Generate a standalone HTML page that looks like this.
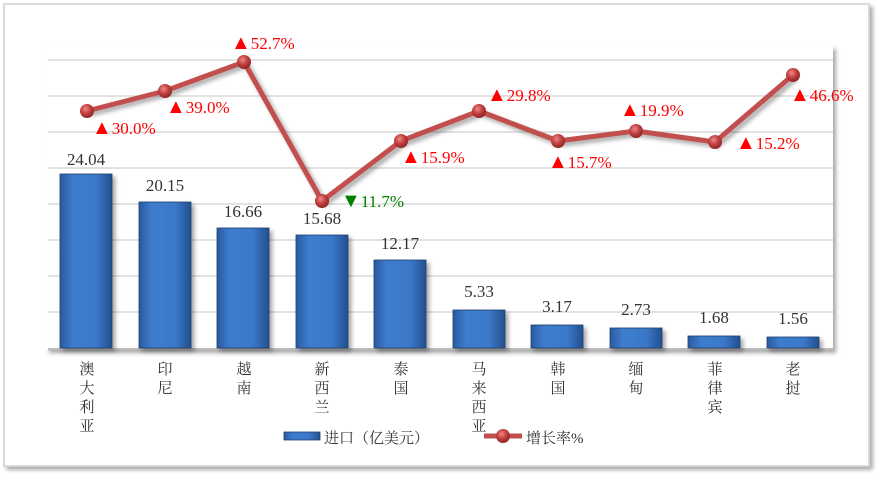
<!DOCTYPE html>
<html><head><meta charset="utf-8"><style>
body{margin:0;background:#fff;}
svg text{font-family:"Liberation Serif","Noto Serif CJK SC",serif;}
</style></head><body>
<svg width="883" height="480" xmlns="http://www.w3.org/2000/svg">
<defs>
<linearGradient id="bg" x1="0" x2="1" y1="0" y2="0">
<stop offset="0" stop-color="#2a5a9e"/><stop offset="0.25" stop-color="#3d7dce"/><stop offset="0.7" stop-color="#3a78c8"/><stop offset="1" stop-color="#22508e"/></linearGradient>
<radialGradient id="mk" cx="0.4" cy="0.35" r="0.7"><stop offset="0" stop-color="#e88"/><stop offset="0.5" stop-color="#c0403f"/><stop offset="1" stop-color="#8a2222"/></radialGradient>
<filter id="sh" x="-10%" y="-10%" width="130%" height="130%"><feDropShadow dx="3" dy="3" stdDeviation="2" flood-color="#000" flood-opacity="0.35"/></filter>
</defs>
<rect x="4" y="4" width="865" height="462" fill="#fff" stroke="#d0d0d0" stroke-width="1.5" filter="url(#sh)"/>
<rect x="46" y="46" width="787" height="304" fill="#fff" filter="url(#sh)"/>
<g stroke="#d9d9d9" stroke-width="1.5">
<line x1="48" x2="833" y1="60" y2="60"/><line x1="48" x2="833" y1="96" y2="96"/><line x1="48" x2="833" y1="132" y2="132"/><line x1="48" x2="833" y1="168" y2="168"/><line x1="48" x2="833" y1="204" y2="204"/><line x1="48" x2="833" y1="240" y2="240"/><line x1="48" x2="833" y1="276" y2="276"/><line x1="48" x2="833" y1="312" y2="312"/>
</g>
<line x1="48" x2="833" y1="349" y2="349" stroke="#bbb" stroke-width="2"/>
<g fill="url(#bg)" stroke="#1e3f70" stroke-width="0.8" filter="url(#sh)">
<rect x="60" y="174" width="52" height="174"/>
<rect x="139" y="202" width="52" height="146"/>
<rect x="217" y="228" width="52" height="120"/>
<rect x="296" y="235" width="52" height="113"/>
<rect x="374" y="260" width="52" height="88"/>
<rect x="453" y="310" width="52" height="38"/>
<rect x="531" y="325" width="52" height="23"/>
<rect x="610" y="328" width="52" height="20"/>
<rect x="688" y="336" width="52" height="12"/>
<rect x="767" y="337" width="52" height="11"/>
</g>
<g font-size="17" fill="#333" text-anchor="middle">
<text x="86" y="165">24.04</text><text x="165" y="191">20.15</text><text x="243" y="217">16.66</text><text x="322" y="224">15.68</text><text x="400" y="249">12.17</text><text x="479" y="297">5.33</text><text x="557" y="312">3.17</text><text x="636" y="315">2.73</text><text x="714" y="323">1.68</text><text x="793" y="324">1.56</text>
</g>
<polyline points="87,111 165,91 244,62 322,201 401,141 479,111 558,141 636,131 715,142 793,75" fill="none" stroke="#c0504d" stroke-width="5" stroke-linejoin="round" filter="url(#sh)"/>
<g fill="url(#mk)">
<circle cx="87" cy="111" r="7"/><circle cx="165" cy="91" r="7"/><circle cx="244" cy="62" r="7"/><circle cx="322" cy="201" r="7"/><circle cx="401" cy="141" r="7"/><circle cx="479" cy="111" r="7"/><circle cx="558" cy="141" r="7"/><circle cx="636" cy="131" r="7"/><circle cx="715" cy="142" r="7"/><circle cx="793" cy="75" r="7"/>
</g>
<g font-size="17" fill="#ff0000">
<text x="92" y="134"><tspan font-size="20">▲</tspan>30.0%</text>
<text x="166" y="113"><tspan font-size="20">▲</tspan>39.0%</text>
<text x="231" y="49"><tspan font-size="20">▲</tspan>52.7%</text>
<text x="341" y="207" fill="#008000"><tspan font-size="20">▼</tspan>11.7%</text>
<text x="401" y="163"><tspan font-size="20">▲</tspan>15.9%</text>
<text x="487" y="101"><tspan font-size="20">▲</tspan>29.8%</text>
<text x="548" y="168"><tspan font-size="20">▲</tspan>15.7%</text>
<text x="620" y="116"><tspan font-size="20">▲</tspan>19.9%</text>
<text x="736" y="149"><tspan font-size="20">▲</tspan>15.2%</text>
<text x="790" y="101"><tspan font-size="20">▲</tspan>46.6%</text>
</g>
<g font-size="15" fill="#333" text-anchor="middle">
<text x="87" y="374">澳</text><text x="87" y="393">大</text><text x="87" y="412">利</text><text x="87" y="431">亚</text>
<text x="165" y="374">印</text><text x="165" y="393">尼</text>
<text x="244" y="374">越</text><text x="244" y="393">南</text>
<text x="322" y="374">新</text><text x="322" y="393">西</text><text x="322" y="412">兰</text>
<text x="401" y="374">泰</text><text x="401" y="393">国</text>
<text x="479" y="374">马</text><text x="479" y="393">来</text><text x="479" y="412">西</text><text x="479" y="431">亚</text>
<text x="558" y="374">韩</text><text x="558" y="393">国</text>
<text x="636" y="374">缅</text><text x="636" y="393">甸</text>
<text x="715" y="374">菲</text><text x="715" y="393">律</text><text x="715" y="412">宾</text>
<text x="793" y="374">老</text><text x="793" y="393">挝</text>
</g>
<rect x="284" y="432" width="36" height="8" fill="url(#bg)" stroke="#1e3f70" stroke-width="0.8"/>
<text x="324" y="443" font-size="15" fill="#333">进口（亿美元）</text>
<line x1="484" x2="522" y1="436" y2="436" stroke="#c0504d" stroke-width="5"/>
<circle cx="503" cy="436" r="7" fill="url(#mk)"/>
<text x="526" y="443" font-size="15" fill="#333">增长率%</text>
</svg>
</body></html>
